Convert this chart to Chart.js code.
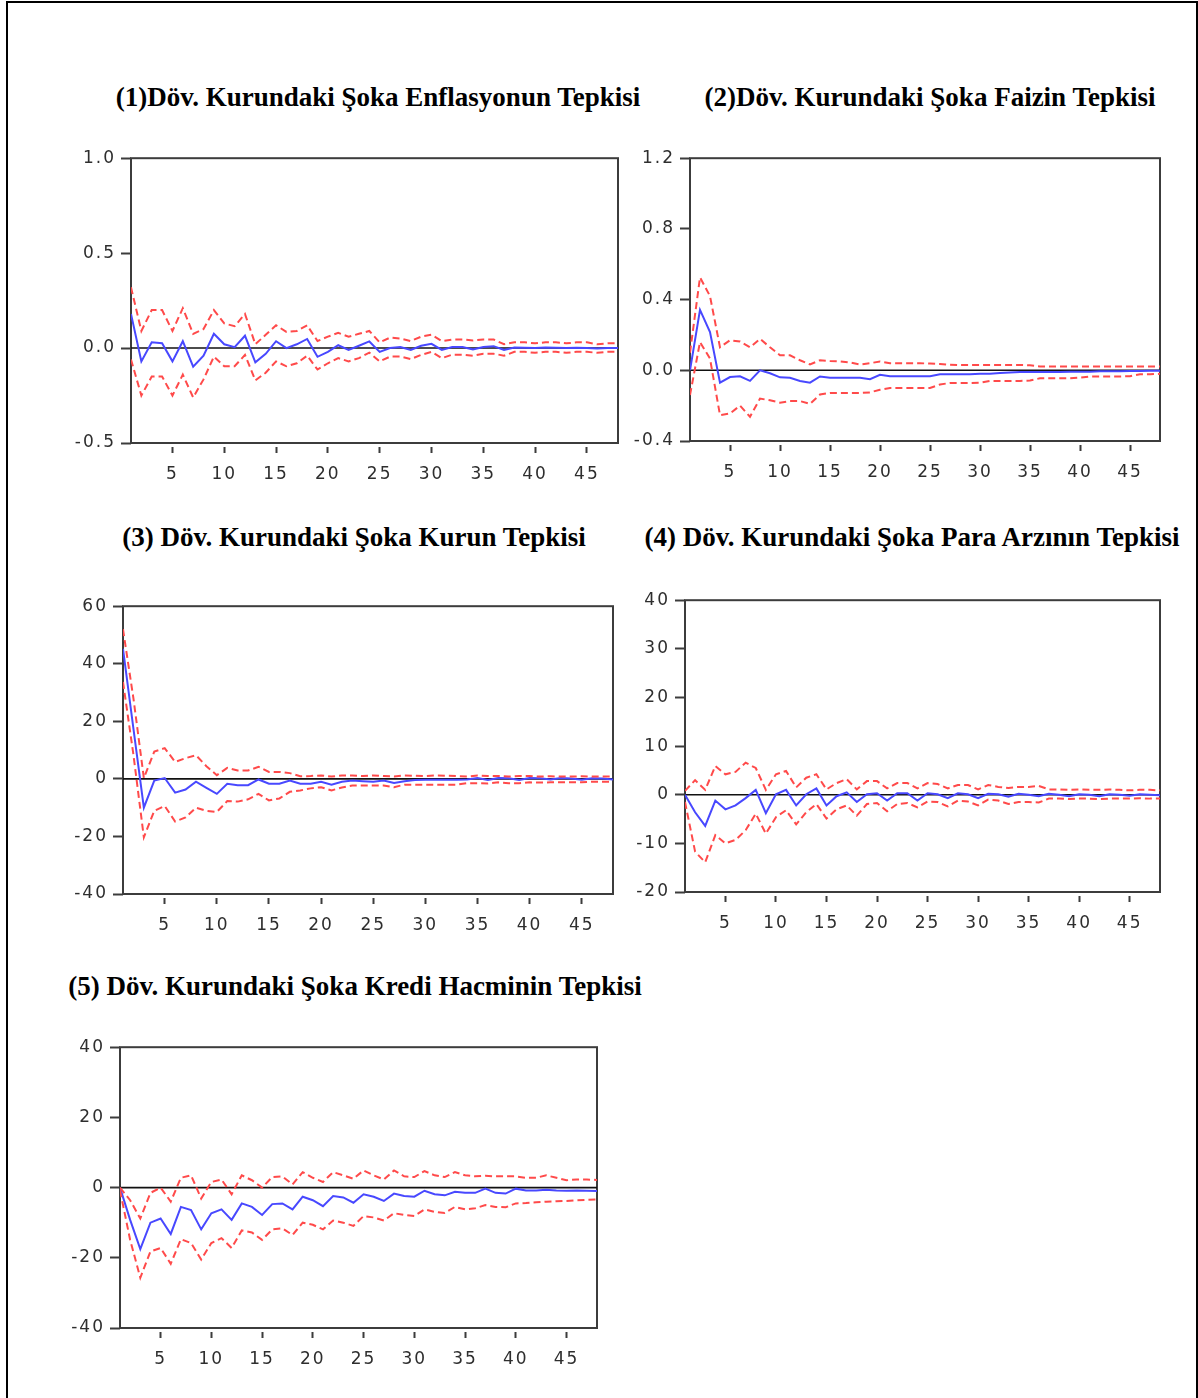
<!DOCTYPE html>
<html lang="tr">
<head>
<meta charset="utf-8">
<title>Döv. Kurundaki Şoka Tepkiler</title>
<script src="https://cdn.jsdelivr.net/npm/chart.js@4.4.1/dist/chart.umd.min.js"></script>
<style>
  html, body { margin: 0; padding: 0; background: #fff; }
  body { width: 1198px; height: 1398px; position: relative; overflow: hidden; }
  .frame { position: absolute; left: 6px; top: 1px; width: 1188px; height: 1420px;
           border: 2px solid #000; border-bottom: none; }
  .title { position: absolute; transform: translate(-50%, -50%); white-space: nowrap;
           font: bold 27px "Liberation Serif", "Times New Roman", serif; color: #000; }
  canvas { position: absolute; }
</style>
</head>
<body>
<div class="frame"></div>

<script>
// dönemler ve eksen işaretleri
const periods = [1, 2, 3, 4, 5, 6, 7, 8, 9, 10, 11, 12, 13, 14, 15, 16, 17, 18, 19, 20, 21, 22, 23, 24,
  25, 26, 27, 28, 29, 30, 31, 32, 33, 34, 35, 36, 37, 38, 39, 40, 41, 42, 43, 44, 45, 46, 47, 48];
const xTicks = [5, 10, 15, 20, 25, 30, 35, 40, 45];

// (1) Enflasyon
const enfYTicks = [-0.5, 0.0, 0.5, 1.0];
const enfIrf = [0.18, -0.07, 0.03, 0.025, -0.07, 0.036, -0.098, -0.04, 0.075, 0.02, 0.005, 0.065, -0.075, -0.03, 0.036, 0.0,
  0.02, 0.048, -0.046, -0.02, 0.015, -0.01, 0.012, 0.035, -0.02, 0.0, 0.005, -0.01, 0.012, 0.022, -0.01, 0.005,
  0.005, -0.008, 0.006, 0.01, -0.01, 0.003, 0.002, 0.0, 0.003, 0.002, 0.0, 0.002, 0.001, -0.002, 0.001, 0.0];
const enfUpper = [0.32, 0.09, 0.2, 0.2, 0.09, 0.21, 0.075, 0.1, 0.2, 0.13, 0.115, 0.18, 0.02, 0.07, 0.12, 0.085,
  0.09, 0.12, 0.037, 0.06, 0.08, 0.06, 0.075, 0.09, 0.03, 0.055, 0.05, 0.037, 0.06, 0.07, 0.037, 0.045,
  0.045, 0.04, 0.045, 0.045, 0.02, 0.03, 0.03, 0.025, 0.03, 0.03, 0.025, 0.03, 0.03, 0.02, 0.025, 0.025];
const enfLower = [-0.06, -0.25, -0.15, -0.15, -0.25, -0.14, -0.26, -0.165, -0.045, -0.096, -0.096, -0.036, -0.17, -0.13, -0.07, -0.096,
  -0.08, -0.04, -0.113, -0.08, -0.053, -0.07, -0.053, -0.024, -0.07, -0.045, -0.045, -0.058, -0.036, -0.02, -0.053, -0.035,
  -0.035, -0.04, -0.03, -0.03, -0.04, -0.02, -0.02, -0.025, -0.02, -0.02, -0.025, -0.02, -0.02, -0.025, -0.02, -0.02];

// (2) Faiz
const faizYTicks = [-0.4, 0.0, 0.4, 0.8, 1.2];
const faizIrf = [0.0, 0.342, 0.216, -0.07, -0.038, -0.034, -0.06, 0.0, -0.017, -0.04, -0.042, -0.06, -0.07, -0.035, -0.042, -0.042,
  -0.042, -0.042, -0.05, -0.025, -0.033, -0.033, -0.033, -0.033, -0.033, -0.022, -0.022, -0.022, -0.022, -0.02, -0.02, -0.015,
  -0.012, -0.01, -0.01, -0.01, -0.01, -0.01, -0.008, -0.008, -0.008, -0.006, -0.006, -0.005, -0.004, -0.004, -0.003, -0.003];
const faizUpper = [0.1, 0.526, 0.42, 0.13, 0.17, 0.163, 0.13, 0.178, 0.13, 0.085, 0.085, 0.057, 0.033, 0.057, 0.052, 0.05,
  0.044, 0.033, 0.04, 0.05, 0.04, 0.04, 0.04, 0.04, 0.038, 0.035, 0.032, 0.03, 0.03, 0.03, 0.03, 0.03,
  0.03, 0.03, 0.028, 0.022, 0.022, 0.022, 0.022, 0.022, 0.022, 0.022, 0.022, 0.022, 0.022, 0.022, 0.022, 0.022];
const faizLower = [-0.14, 0.16, 0.066, -0.254, -0.244, -0.2, -0.263, -0.16, -0.17, -0.183, -0.174, -0.174, -0.19, -0.137, -0.128, -0.128,
  -0.128, -0.128, -0.125, -0.11, -0.1, -0.1, -0.1, -0.1, -0.1, -0.08, -0.072, -0.072, -0.072, -0.07, -0.06, -0.06,
  -0.06, -0.06, -0.058, -0.045, -0.045, -0.045, -0.045, -0.042, -0.035, -0.035, -0.035, -0.035, -0.033, -0.022, -0.022, -0.02];

// (3) Kur
const kurYTicks = [-40, -20, 0, 20, 40, 60];
const kurIrf = [45.2, 17.5, -10, -0.6, 0.3, -4.8, -3.7, -1.0, -3.1, -5.2, -1.7, -2.2, -2.2, -0.2, -1.7, -1.7,
  -0.6, -1.7, -1.7, -1.0, -2.0, -1.0, -0.6, -0.8, -1.0, -0.6, -1.4, -0.8, -0.4, -0.3, -0.3, -0.3,
  -0.3, -0.2, 0.3, -0.4, 0.3, 0.2, -0.4, 0.3, 0.2, -0.2, 0.3, 0.1, -0.3, 0.2, 0.1, -0.2];
const kurUpper = [52, 28, 0.3, 9.5, 10.7, 5.9, 7.2, 8.2, 4.4, 1.3, 3.8, 2.9, 2.9, 4.2, 2.4, 2.4,
  2.0, 0.9, 1.0, 1.2, 0.8, 1.2, 1.2, 1.0, 1.2, 1.0, 0.8, 1.2, 1.1, 1.0, 1.2, 1.1,
  1.0, 0.8, 1.2, 1.0, 1.0, 0.8, 1.0, 1.0, 0.8, 0.9, 0.8, 0.8, 0.9, 0.8, 0.8, 0.8];
const kurLower = [33.7, 8.4, -20.3, -11.1, -9.4, -14.8, -13.4, -10, -11.1, -11.5, -7.7, -7.9, -7.1, -5.2, -7.5, -6.8,
  -4.5, -4.0, -3.3, -2.9, -4.0, -3.0, -2.3, -2.3, -2.3, -2.3, -2.9, -2.0, -2.0, -2.0, -2.0, -2.0,
  -2.0, -1.5, -1.5, -1.6, -1.2, -1.5, -1.5, -1.2, -1.3, -1.2, -1.2, -1.2, -1.2, -1.0, -1.0, -1.0];

// (4) Para arzı
const paraYTicks = [-20, -10, 0, 10, 20, 30, 40];
const paraIrf = [0, -3.6, -6.4, -1.2, -3.0, -2.2, -0.7, 1.0, -3.8, 0.1, 1.0, -2.2, 0.1, 1.3, -2.2, -0.3,
  0.5, -1.5, 0.1, 0.3, -1.2, 0.3, 0.3, -1.2, 0.3, 0.1, -0.7, 0.3, 0.1, -0.7, 0.2, 0.1,
  -0.4, 0.2, 0.0, -0.3, 0.2, 0.0, -0.3, 0.1, 0.0, -0.3, 0.1, 0.0, -0.2, 0.1, 0.0, -0.1];
const paraUpper = [0.8, 3.0, 1.0, 5.9, 4.2, 4.7, 6.6, 5.5, 1.0, 4.2, 4.9, 1.5, 3.5, 4.2, 1.1, 2.4,
  3.2, 1.1, 2.8, 2.8, 1.3, 2.4, 2.4, 1.3, 2.4, 2.2, 1.3, 2.0, 2.0, 1.1, 2.0, 1.6,
  1.4, 1.6, 1.6, 1.8, 1.1, 1.1, 1.0, 1.1, 1.0, 1.0, 1.1, 1.0, 0.9, 1.0, 1.0, 0.9];
const paraLower = [-1.5, -11.7, -13.9, -8.3, -10, -9.3, -7.3, -3.9, -8.0, -4.6, -3.2, -6.1, -3.6, -1.9, -4.9, -3.0,
  -2.2, -4.3, -1.9, -1.7, -3.4, -1.9, -1.7, -2.6, -1.4, -1.5, -2.4, -1.2, -1.4, -2.2, -1.0, -1.2,
  -1.9, -1.5, -1.5, -1.6, -0.8, -0.8, -0.9, -0.8, -0.8, -0.9, -0.8, -0.8, -0.8, -0.7, -0.8, -0.8];

// (5) Kredi hacmi
const krediYTicks = [-40, -20, 0, 20, 40];
const krediIrf = [0, -9.2, -17.5, -10, -8.8, -13.2, -5.5, -6.4, -11.9, -7.3, -6.2, -9.2, -4.5, -5.5, -7.8, -4.7,
  -4.5, -6.2, -2.6, -3.6, -5.3, -2.4, -2.8, -4.3, -1.9, -2.6, -3.8, -1.7, -2.4, -2.6, -0.9, -1.9,
  -2.2, -1.2, -1.5, -1.5, -0.3, -1.5, -1.7, -0.3, -0.8, -0.8, -0.6, -0.8, -0.9, -0.8, -0.9, -1.0];
const krediUpper = [0, -3.6, -8.8, -1.5, 0, -4.0, 2.8, 3.5, -3.1, 1.6, 2.3, -1.9, 3.5, 2.1, 0, 3.0,
  3.2, 0.9, 4.4, 2.8, 1.6, 4.4, 3.5, 2.5, 4.9, 3.5, 2.3, 4.9, 3.2, 3.0, 4.7, 3.5,
  3.0, 4.4, 3.5, 3.2, 3.4, 3.2, 3.2, 3.2, 2.8, 2.8, 3.5, 2.8, 2.1, 2.3, 2.3, 2.2];
const krediLower = [-0.8, -14.9, -25.7, -18.2, -17.2, -21.7, -14.7, -15.8, -20.5, -15.8, -14.4, -17.2, -12.2, -12.8, -14.9, -11.9,
  -11.6, -13.5, -10, -10.6, -11.9, -9.4, -10, -10.9, -8.1, -8.5, -9.4, -7.3, -7.8, -8.1, -6.2, -6.9,
  -7.2, -5.5, -6.2, -5.9, -5.0, -5.5, -5.6, -4.5, -4.4, -4.2, -4.0, -3.9, -3.8, -3.6, -3.5, -3.4];

// panel yerleşimi (çizim alanı piksel sınırları)
const panels = [
  { title: '(1)Döv. Kurundaki Şoka Enflasyonun Tepkisi', tx: 378, ty: 97,
    box: [131, 155, 618, 443], yTicks: enfYTicks, dec: 1, irf: enfIrf, up: enfUpper, lo: enfLower },
  { title: '(2)Döv. Kurundaki Şoka Faizin Tepkisi', tx: 930, ty: 97,
    box: [690, 155, 1160, 441], yTicks: faizYTicks, dec: 1, irf: faizIrf, up: faizUpper, lo: faizLower },
  { title: '(3) Döv. Kurundaki Şoka Kurun Tepkisi', tx: 354, ty: 537,
    box: [123, 603, 613, 894], yTicks: kurYTicks, dec: 0, irf: kurIrf, up: kurUpper, lo: kurLower },
  { title: '(4) Döv. Kurundaki Şoka Para Arzının Tepkisi', tx: 912, ty: 537,
    box: [685, 597, 1160, 892], yTicks: paraYTicks, dec: 0, irf: paraIrf, up: paraUpper, lo: paraLower },
  { title: '(5) Döv. Kurundaki Şoka Kredi Hacminin Tepkisi', tx: 355, ty: 986,
    box: [120, 1044, 597, 1328], yTicks: krediYTicks, dec: 0, irf: krediIrf, up: krediUpper, lo: krediLower }
];

const PAD_TOP = 12, PAD_RIGHT = 12, Y_W = 70, X_H = 55;

// çerçeve ve sıfır çizgisi
const framePlugin = {
  id: 'frame',
  beforeDraw(chart) {
    chart.ctx.letterSpacing = '2px';
  },
  beforeDatasetsDraw(chart) {
    const { ctx, chartArea: a, scales: { y } } = chart;
    ctx.save();
    ctx.strokeStyle = '#3c3c3c';
    ctx.lineWidth = 2;
    ctx.strokeRect(a.left, a.top, a.right - a.left, a.bottom - a.top);
    const y0 = y.getPixelForValue(0);
    ctx.strokeStyle = '#111';
    ctx.lineWidth = 1.6;
    ctx.beginPath();
    ctx.moveTo(a.left, y0);
    ctx.lineTo(a.right, y0);
    ctx.stroke();
    ctx.restore();
  }
};

function toPoints(values) {
  return periods.map((p, i) => ({ x: p, y: values[i] }));
}

function makePanel(p) {
  const [L, T, R, B] = p.box;

  const title = document.createElement('div');
  title.className = 'title';
  title.textContent = p.title;
  title.style.left = p.tx + 'px';
  title.style.top = p.ty + 'px';
  document.body.appendChild(title);

  const w = R - L + Y_W + PAD_RIGHT;
  const h = B - T + PAD_TOP + X_H;
  const canvas = document.createElement('canvas');
  canvas.width = w;
  canvas.height = h;
  canvas.style.left = (L - Y_W) + 'px';
  canvas.style.top = (T - PAD_TOP) + 'px';
  canvas.style.width = w + 'px';
  canvas.style.height = h + 'px';
  document.body.appendChild(canvas);

  const bandStyle = {
    borderColor: '#ff4a4a', borderWidth: 2, borderDash: [7, 4],
    pointRadius: 0, fill: false, tension: 0
  };

  new Chart(canvas, {
    type: 'line',
    data: {
      datasets: [
        Object.assign({ label: 'upper', data: toPoints(p.up) }, bandStyle),
        Object.assign({ label: 'lower', data: toPoints(p.lo) }, bandStyle),
        { label: 'irf', data: toPoints(p.irf), borderColor: '#4848ff', borderWidth: 2,
          pointRadius: 0, fill: false, tension: 0 }
      ]
    },
    options: {
      responsive: false,
      devicePixelRatio: 1,
      animation: false,
      events: [],
      layout: { padding: { top: PAD_TOP, right: PAD_RIGHT, left: 0, bottom: 0 } },
      plugins: { legend: { display: false }, tooltip: { enabled: false } },
      scales: {
        x: {
          type: 'linear', min: 1, max: 48,
          afterBuildTicks: s => { s.ticks = xTicks.map(v => ({ value: v })); },
          afterFit: s => { s.height = X_H; },
          border: { display: false },
          grid: { drawOnChartArea: false, drawTicks: true, tickLength: 10,
                  tickColor: '#3c3c3c', tickWidth: 2, tickBorderDash: [0, 4, 6, 0] },
          ticks: { padding: 11, maxRotation: 0, color: '#2e2e2e',
                   font: { family: 'DejaVu Sans', size: 17 } }
        },
        y: {
          min: p.yTicks[0], max: p.yTicks[p.yTicks.length - 1],
          afterBuildTicks: s => { s.ticks = p.yTicks.map(v => ({ value: v })); },
          afterFit: s => { s.width = Y_W; },
          border: { display: false },
          grid: { drawOnChartArea: false, drawTicks: true, tickLength: 10,
                  tickColor: '#3c3c3c', tickWidth: 2 },
          ticks: { padding: 5, color: '#2e2e2e', font: { family: 'DejaVu Sans', size: 17 },
                   callback: v => v.toFixed(p.dec) }
        }
      }
    },
    plugins: [framePlugin]
  });
}

panels.forEach(makePanel);
</script>
</body>
</html>
